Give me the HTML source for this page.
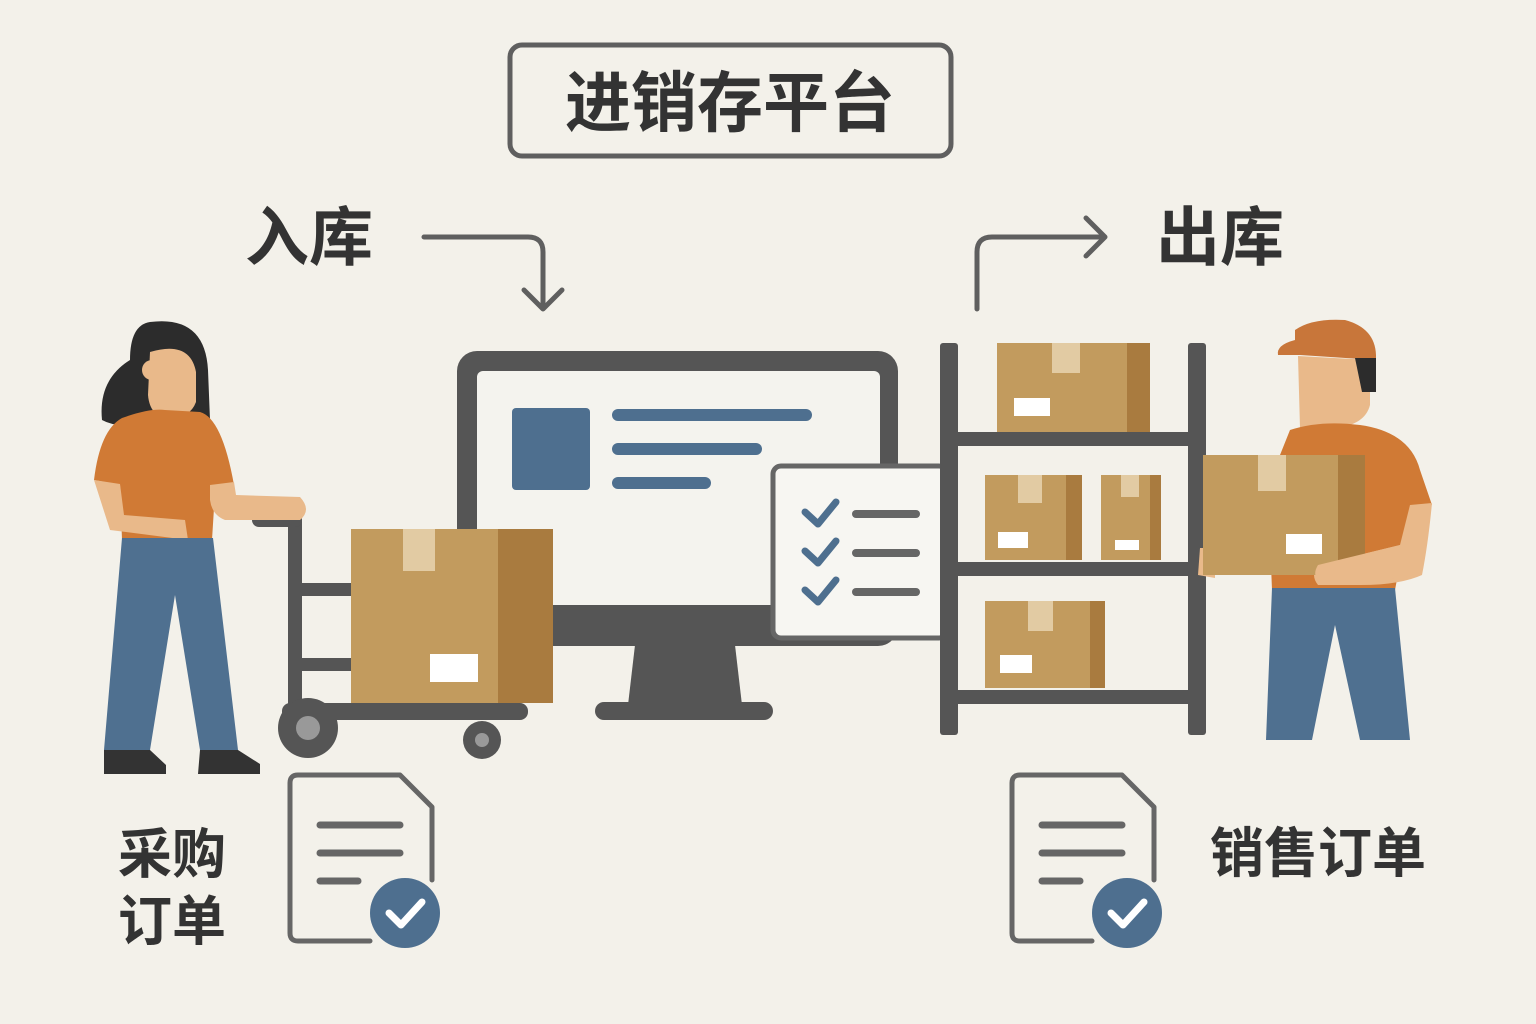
<!DOCTYPE html>
<html><head><meta charset="utf-8"><style>
html,body{margin:0;padding:0;background:#f3f1ea;}
svg{display:block}
text{font-family:"Liberation Sans","Noto Sans CJK SC",sans-serif;font-weight:700;fill:#333}
</style></head><body>
<svg width="1536" height="1024" viewBox="0 0 1536 1024" xmlns="http://www.w3.org/2000/svg">
<rect width="1536" height="1024" fill="#f3f1ea"/>
<rect x="510" y="45" width="441" height="111" rx="12" fill="none" stroke="#5f5f5f" stroke-width="5"/>
<text x="730" y="126" font-size="66" text-anchor="middle">进销存平台</text>
<text x="245" y="260" font-size="64">入库</text>
<text x="1156" y="260" font-size="64">出库</text>
<path d="M424 237 H528 Q543 237 543 252 V307" fill="none" stroke="#5f5f5f" stroke-width="5" stroke-linecap="round"/>
<path d="M524 290 L543 309 L562 290" fill="none" stroke="#5f5f5f" stroke-width="5" stroke-linecap="round" stroke-linejoin="round"/>
<path d="M977 309 V252 Q977 237 992 237 H1103" fill="none" stroke="#5f5f5f" stroke-width="5" stroke-linecap="round"/>
<path d="M1086 218 L1105 237 L1086 256" fill="none" stroke="#5f5f5f" stroke-width="5" stroke-linecap="round" stroke-linejoin="round"/>
<path d="M635 645 H735 L742 705 H628 Z" fill="#555"/>
<rect x="595" y="702" width="178" height="18" rx="9" fill="#555"/>
<rect x="457" y="351" width="441" height="295" rx="20" fill="#555"/>
<rect x="477" y="371" width="403" height="234" rx="6" fill="#f4f3ee"/>
<rect x="512" y="408" width="78" height="82" rx="4" fill="#4e6f8f"/>
<g stroke="#4e6f8f" stroke-width="12" stroke-linecap="round">
<line x1="618" y1="415" x2="806" y2="415"/><line x1="618" y1="449" x2="756" y2="449"/><line x1="618" y1="483" x2="705" y2="483"/></g>
<rect x="773" y="466" width="174" height="172" rx="8" fill="#f7f6f2" stroke="#666" stroke-width="5"/>
<g fill="none" stroke="#4e6f8f" stroke-width="7" stroke-linecap="round" stroke-linejoin="round">
<path d="M805 512 L818 524 L836 502"/><path d="M805 551 L818 563 L836 541"/><path d="M805 590 L818 602 L836 580"/></g>
<g stroke="#666" stroke-width="8" stroke-linecap="round">
<line x1="856" y1="514" x2="916" y2="514"/><line x1="856" y1="553" x2="916" y2="553"/><line x1="856" y1="592" x2="916" y2="592"/></g>
<g fill="#555">
<rect x="940" y="343" width="18" height="392" rx="3"/><rect x="1188" y="343" width="18" height="392" rx="3"/>
<rect x="955" y="432" width="236" height="14"/><rect x="955" y="562" width="236" height="14"/><rect x="955" y="690" width="236" height="14"/></g>
<g>
<rect x="997" y="343" width="153" height="89" fill="#c29b5e"/><rect x="1127" y="343" width="23" height="89" fill="#a97b3f"/><rect x="1052" y="343" width="28" height="30" fill="#e2cba3"/><rect x="1014" y="398" width="36" height="18" fill="#fff"/>
<rect x="985" y="475" width="97" height="85" fill="#c29b5e"/><rect x="1066" y="475" width="16" height="85" fill="#a97b3f"/><rect x="1018" y="475" width="24" height="28" fill="#e2cba3"/><rect x="998" y="532" width="30" height="16" fill="#fff"/>
<rect x="1101" y="475" width="60" height="85" fill="#c29b5e"/><rect x="1150" y="475" width="11" height="85" fill="#a97b3f"/><rect x="1121" y="475" width="18" height="22" fill="#e2cba3"/><rect x="1115" y="540" width="24" height="10" fill="#fff"/>
<rect x="985" y="601" width="120" height="87" fill="#c29b5e"/><rect x="1090" y="601" width="15" height="87" fill="#a97b3f"/><rect x="1028" y="601" width="25" height="30" fill="#e2cba3"/><rect x="1000" y="655" width="32" height="18" fill="#fff"/>
</g>
<g fill="#555">
<rect x="288" y="515" width="14" height="195" rx="6"/>
<rect x="252" y="513" width="50" height="14" rx="7"/>
<rect x="295" y="583" width="58" height="13" /><rect x="295" y="658" width="58" height="13"/>
<rect x="282" y="703" width="246" height="17" rx="8"/>
<circle cx="308" cy="728" r="30"/><circle cx="482" cy="740" r="19"/></g>
<circle cx="308" cy="728" r="12" fill="#999"/><circle cx="482" cy="740" r="7" fill="#999"/>
<rect x="351" y="529" width="202" height="174" fill="#c29b5e"/><rect x="498" y="529" width="55" height="174" fill="#a97b3f"/>
<rect x="403" y="529" width="32" height="42" fill="#e2cba3"/><rect x="430" y="654" width="48" height="28" fill="#fff"/>
<path d="M150 322 Q205 315 208 370 L210 420 L150 420 Q120 430 102 420 Q98 380 130 360 Q130 325 150 322Z" fill="#2c2c2c"/>
<path d="M150 352 Q190 340 196 372 L196 402 Q190 418 170 418 Q150 418 148 395 Z" fill="#e9b98a"/>
<circle cx="152" cy="370" r="10" fill="#e9b98a"/>
<rect x="162" y="405" width="20" height="22" fill="#e9b98a"/>
<path d="M122 418 Q150 408 165 410 L200 412 Q222 418 234 485 L215 492 L212 540 L122 540 L120 485 L94 480 Q100 430 122 418Z" fill="#d07a35"/>
<path d="M94 480 L120 484 L124 515 L185 520 L188 540 L110 530 Z" fill="#e9b98a"/>
<path d="M210 485 L234 482 L236 495 L300 497 Q312 510 300 520 L225 520 Q212 515 210 500Z" fill="#e9b98a"/>
<path d="M122 538 L213 538 L238 750 L200 750 L175 595 L150 750 L104 750 Z" fill="#4f7090"/>
<path d="M104 750 L150 750 L166 765 L166 774 L104 774Z" fill="#333"/>
<path d="M200 750 L238 750 L260 764 L260 774 L198 774Z" fill="#333"/>
<path d="M1295 330 Q1312 318 1345 320 Q1375 328 1376 355 L1376 360 L1300 355 L1278 355 Q1276 345 1295 340Z" fill="#c8763a"/>
<path d="M1298 356 L1370 360 L1370 405 Q1365 425 1335 428 L1300 428 Z" fill="#e9b98a"/>
<path d="M1355 358 L1376 358 L1376 392 L1362 392 Z" fill="#2c2c2c"/>
<rect x="1318" y="420" width="30" height="20" fill="#e9b98a"/>
<path d="M1290 430 Q1320 420 1360 425 Q1410 432 1420 470 L1432 505 L1410 510 L1395 590 L1272 590 L1270 540 L1262 500 Z" fill="#d07a35"/>
<path d="M1410 505 L1432 503 Q1428 545 1422 575 Q1400 585 1360 585 L1318 585 Q1310 575 1318 565 L1400 545 Z" fill="#e9b98a"/>
<path d="M1200 548 L1215 548 L1215 578 L1198 575Z" fill="#e9b98a"/>
<path d="M1272 588 L1395 588 L1410 740 L1360 740 L1335 625 L1312 740 L1266 740 Z" fill="#4f7090"/>
<rect x="1203" y="455" width="162" height="120" fill="#c29b5e"/><rect x="1338" y="455" width="27" height="120" fill="#a97b3f"/>
<rect x="1258" y="455" width="28" height="36" fill="#e2cba3"/><rect x="1286" y="534" width="36" height="20" fill="#fff"/>
<path d="M1318 565 L1400 545 L1405 575 Q1380 585 1325 585 Q1310 578 1318 565Z" fill="#e9b98a"/>
<g fill="none" stroke="#666" stroke-width="5" stroke-linejoin="round" stroke-linecap="round">
<path d="M370 941 H298 Q290 941 290 933 V783 Q290 775 298 775 H400 L432 807 V880"/>
<path d="M1092 941 H1020 Q1012 941 1012 933 V783 Q1012 775 1020 775 H1122 L1154 807 V880"/>
</g>
<g stroke="#666" stroke-width="7" stroke-linecap="round">
<line x1="320" y1="825" x2="400" y2="825"/><line x1="320" y1="853" x2="400" y2="853"/><line x1="320" y1="881" x2="358" y2="881"/>
<line x1="1042" y1="825" x2="1122" y2="825"/><line x1="1042" y1="853" x2="1122" y2="853"/><line x1="1042" y1="881" x2="1080" y2="881"/></g>
<circle cx="405" cy="913" r="35" fill="#4e6f8f"/><circle cx="1127" cy="913" r="35" fill="#4e6f8f"/>
<g fill="none" stroke="#fff" stroke-width="7" stroke-linecap="round" stroke-linejoin="round">
<path d="M389 913 L401 925 L422 902"/><path d="M1111 913 L1123 925 L1144 902"/></g>
<text x="118" y="873" font-size="54">采购</text>
<text x="118" y="940" font-size="54">订单</text>
<text x="1210" y="872" font-size="54">销售订单</text>
</svg>
</body></html>
